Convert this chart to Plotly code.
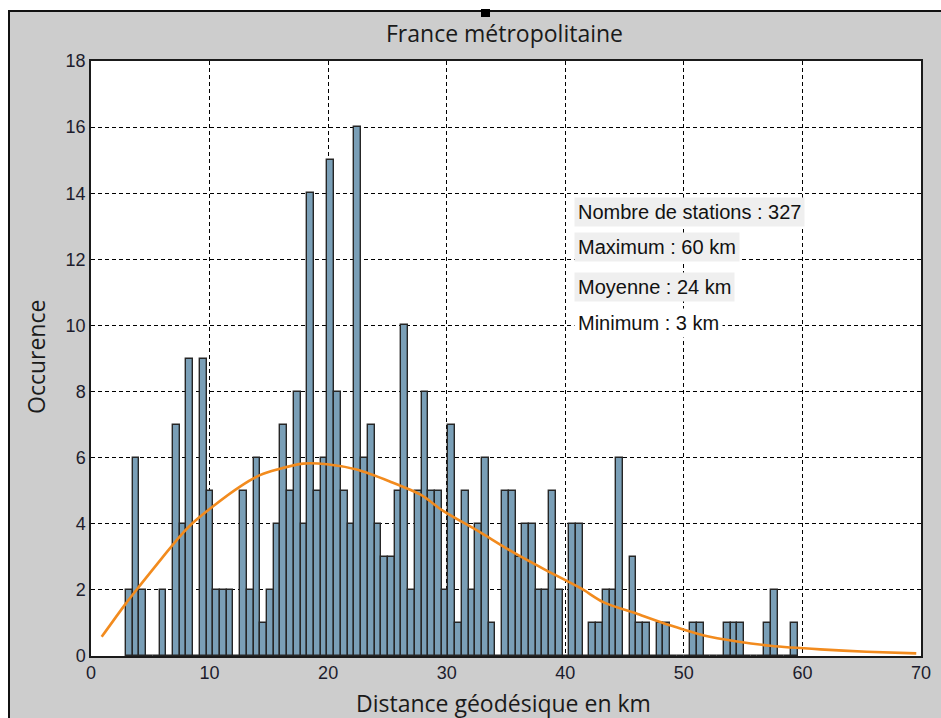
import plotly.graph_objects as go

# ---- data ----
dist_min = 2.95      # km, left edge of first bin
dist_max = 59.6      # km, right edge of last bin
counts = [2, 6, 2, 0, 0, 2, 0, 7, 4, 9,
          0, 9, 5, 2, 2, 2, 0, 5, 2, 6,
          1, 2, 4, 7, 5, 8, 4, 14, 5, 6,
          15, 8, 5, 4, 16, 6, 7, 4, 3, 3,
          5, 10, 2, 5, 8, 5, 5, 2, 7, 1,
          5, 2, 4, 6, 1, 0, 5, 5, 3, 4,
          4, 2, 2, 5, 2, 0, 4, 4, 0, 1,
          1, 2, 2, 6, 0, 3, 1, 1, 0, 1,
          1, 0, 0, 0, 1, 1, 0, 0, 0, 1,
          1, 1, 0, 0, 0, 1, 2, 0, 0, 1]

fit_x = [0.9, 2.9, 4.1, 6.0, 7.5, 8.6, 10.3, 12.6, 14.3, 15.7, 17.9, 19.9,
         22.4, 25.2, 27.8, 29.7, 32.6, 35.4, 38.2, 41.3, 43.2, 46.1, 48.9,
         51.7, 54.5, 57.3, 61.5, 65.4, 69.6]
fit_y = [0.58, 1.57, 2.12, 2.97, 3.62, 4.03, 4.53, 5.13, 5.48, 5.64, 5.82, 5.80,
         5.64, 5.28, 4.88, 4.39, 3.79, 3.18, 2.63, 2.05, 1.63, 1.27, 0.92,
         0.62, 0.44, 0.31, 0.20, 0.13, 0.08]

x_ticks = [0, 10, 20, 30, 40, 50, 60, 70]
y_ticks = [0, 2, 4, 6, 8, 10, 12, 14, 16, 18]

title_text = "France métropolitaine"
x_label = "Distance géodésique en km"
y_label = "Occurence"
stats = ["Nombre de stations : 327", "Maximum : 60 km", "Moyenne : 24 km", "Minimum : 3 km"]

# ---- derived ----
n_bins = len(counts)
bw = (dist_max - dist_min) / n_bins
centers = [dist_min + (k + 0.5) * bw for k in range(n_bins)]

OFF = 0                       # body margin removed in post_script
W, H = 941 - OFF, 718 - OFF
ML, MR, MT, MB = 91 - OFF, 20, 61 - OFF, 62
PW, PH = W - ML - MR, H - MT - MB

def px_x(page_x):
    return (page_x - OFF - ML) / PW

def px_y(page_y):
    return (H - MB - (page_y - OFF)) / PH

LABEL_FONT = dict(family="Open Sans", size=23, color="#1a1a1a")
TEXT_FONT = dict(family="Liberation Sans, Arial", size=20, color="#111111")

fig = go.Figure()
fig.add_trace(go.Bar(
    x=centers, y=counts, width=bw,
    marker=dict(color="#7a9fb7", line=dict(color="#262626", width=1.4)),
    showlegend=False, hoverinfo="x+y"))
fig.add_trace(go.Scatter(
    x=fit_x, y=fit_y, mode="lines",
    line=dict(color="#f28b1e", width=2.6, shape="spline", smoothing=0.8),
    showlegend=False))

axis_common = dict(
    showline=True, linecolor="#1a1a1a", linewidth=1.5, mirror=True,
    showgrid=True, gridcolor="#000000", gridwidth=1, griddash="4px,3px",
    zeroline=False, ticks="", layer="below traces",
    tickfont=dict(family="Liberation Sans, Arial", size=18, color="#1c1c2c"))

fig.update_xaxes(range=[0, 70], tickvals=x_ticks, ticktext=[str(v) for v in x_ticks],
                 **axis_common)
fig.update_yaxes(range=[0, 18], tickvals=y_ticks, ticktext=[str(v) for v in y_ticks],
                 **axis_common)

annotations = [
    dict(text=title_text, xref="paper", yref="paper", x=px_x(504), y=px_y(33),
         xanchor="center", yanchor="middle", showarrow=False, font=LABEL_FONT),
    dict(text=x_label, xref="paper", yref="paper", x=px_x(503), y=px_y(703),
         xanchor="center", yanchor="middle", showarrow=False, font=LABEL_FONT),
    dict(text=y_label, xref="paper", yref="paper", x=px_x(36), y=px_y(357),
         xanchor="center", yanchor="middle", showarrow=False, textangle=-90, font=LABEL_FONT),
]
stat_centers = [211.5, 246.5, 286.5, 323]
for i, (txt, cy) in enumerate(zip(stats, stat_centers)):
    annotations.append(dict(
        text=txt, xref="paper", yref="paper", x=px_x(574), y=px_y(cy),
        xanchor="left", yanchor="middle", showarrow=False,
        bgcolor="#efefef" if i < 3 else "#ffffff", borderpad=3,
        font=TEXT_FONT))

shapes = [
    # white strips above / left of the grey window
    dict(type="rect", xref="paper", yref="paper", x0=px_x(0), x1=px_x(950),
         y0=px_y(10), y1=px_y(0), fillcolor="white", line=dict(width=0), layer="above"),
    dict(type="rect", xref="paper", yref="paper", x0=px_x(0), x1=px_x(8),
         y0=px_y(725), y1=px_y(0), fillcolor="white", line=dict(width=0), layer="above"),
    # window border lines
    dict(type="line", xref="paper", yref="paper", x0=px_x(8), x1=px_x(950),
         y0=px_y(11), y1=px_y(11), line=dict(color="#111111", width=2), layer="above"),
    dict(type="line", xref="paper", yref="paper", x0=px_x(9), x1=px_x(9),
         y0=px_y(11), y1=px_y(725), line=dict(color="#111111", width=2), layer="above"),
    # small handle square
    dict(type="rect", xref="paper", yref="paper", x0=px_x(481), x1=px_x(490),
         y0=px_y(17), y1=px_y(9), fillcolor="black", line=dict(width=0), layer="above"),
]

fig.update_layout(
    width=W, height=H,
    margin=dict(l=ML, r=MR, t=MT, b=MB, autoexpand=False),
    paper_bgcolor="#cdcdcd", plot_bgcolor="white",
    bargap=0, annotations=annotations, shapes=shapes,
    showlegend=False)

fig.write_html("out.html",
               config={"displayModeBar": False},
               post_script="document.body.style.margin='0';"
                           "document.documentElement.style.overflow='hidden';"
                           "document.body.style.overflow='hidden';")
